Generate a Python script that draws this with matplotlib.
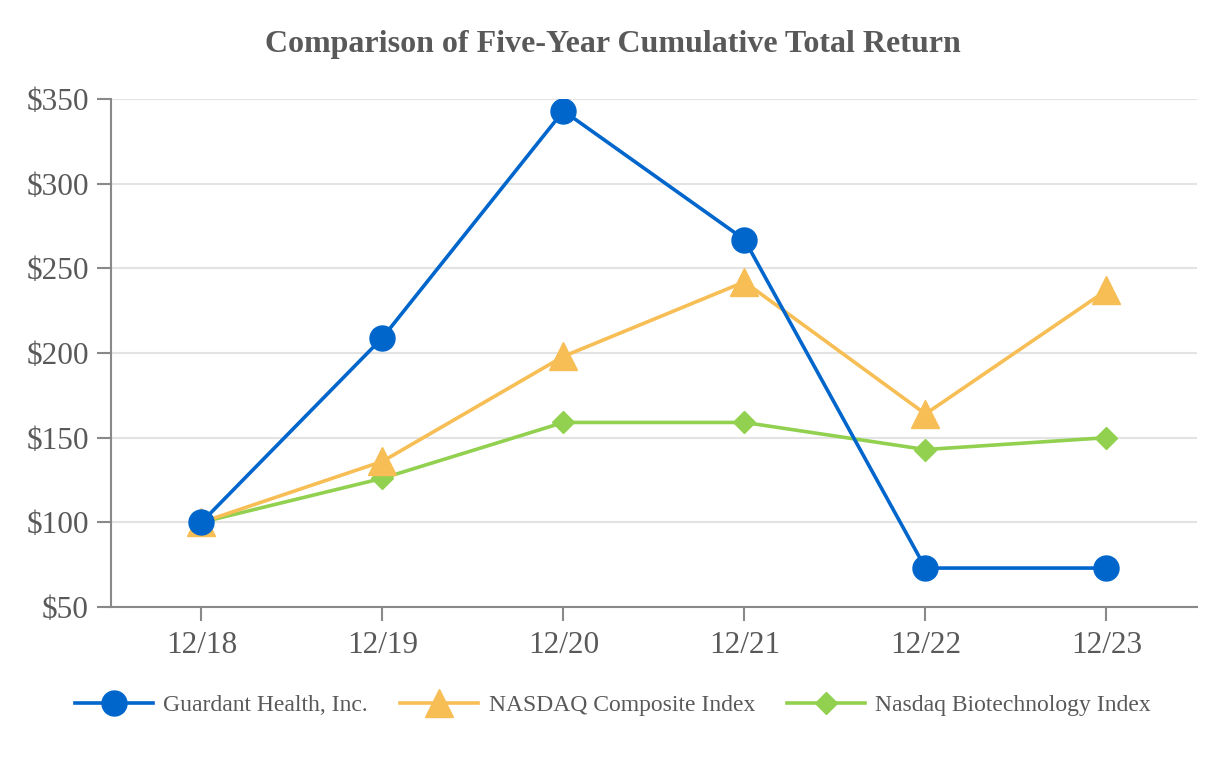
import numpy as np
import matplotlib.pyplot as plt

plt.rcParams['font.family'] = ['Liberation Serif', 'DejaVu Serif']

# data
periods = ['12/18', '12/19', '12/20', '12/21', '12/22', '12/23']
guardant = [100, 209, 343, 267, 73, 73]
nasdaq_comp = [100, 136, 198, 242, 164, 237]
nasdaq_bio = [100, 126, 159, 159, 143, 150]
y_ticks = [50, 100, 150, 200, 250, 300, 350]

text_gray = '#595959'
axis_gray = '#898989'

fig = plt.figure(figsize=(12.26, 7.6), dpi=100)
ax = fig.add_axes([0.0905, 0.2013, 0.8858, 0.6684])

x = np.arange(len(periods))
ax.plot(x, nasdaq_bio, color='#92D050', lw=2.6, marker='D', ms=11,
        label='Nasdaq Biotechnology Index', zorder=3)
ax.plot(x, nasdaq_comp, color='#F7BE55', lw=2.6, marker='^', ms=20,
        label='NASDAQ Composite Index', zorder=4)
ax.plot(x, guardant, color='#0066CC', lw=2.6, marker='o', ms=18,
        label='Guardant Health, Inc.', zorder=5)

ax.set_xlim(-0.5, len(periods) - 0.5)
ax.set_ylim(50, 350)
ax.set_xticks(x)
ax.set_xticklabels(periods)
ax.set_yticks(y_ticks)
ax.set_yticklabels(['${}'.format(v) for v in y_ticks])
ax.grid(axis='y', color='#e3e3e3', lw=1.5)
ax.set_axisbelow(True)

for side in ['top', 'right']:
    ax.spines[side].set_visible(False)
for side in ['left', 'bottom']:
    ax.spines[side].set_color(axis_gray)
    ax.spines[side].set_linewidth(1.5)
ax.tick_params(axis='both', colors=axis_gray, width=1.5, length=10,
               labelcolor=text_gray, labelsize=22.5)
ax.tick_params(axis='y', pad=6)
ax.tick_params(axis='x', pad=7)

fig.suptitle('Comparison of Five-Year Cumulative Total Return', x=0.5, y=0.96,
             fontsize=23, fontweight='bold', color=text_gray)

handles, labels = ax.get_legend_handles_labels()
order = [2, 1, 0]
leg = fig.legend([handles[i] for i in order], [labels[i] for i in order],
                 loc='center', bbox_to_anchor=(0.5, 0.072), ncol=3, frameon=False,
                 fontsize=17, handlelength=3.3, columnspacing=1.35, handletextpad=0.45)
for t in leg.get_texts():
    t.set_color(text_gray)

fig.savefig('out.png', dpi=100)
